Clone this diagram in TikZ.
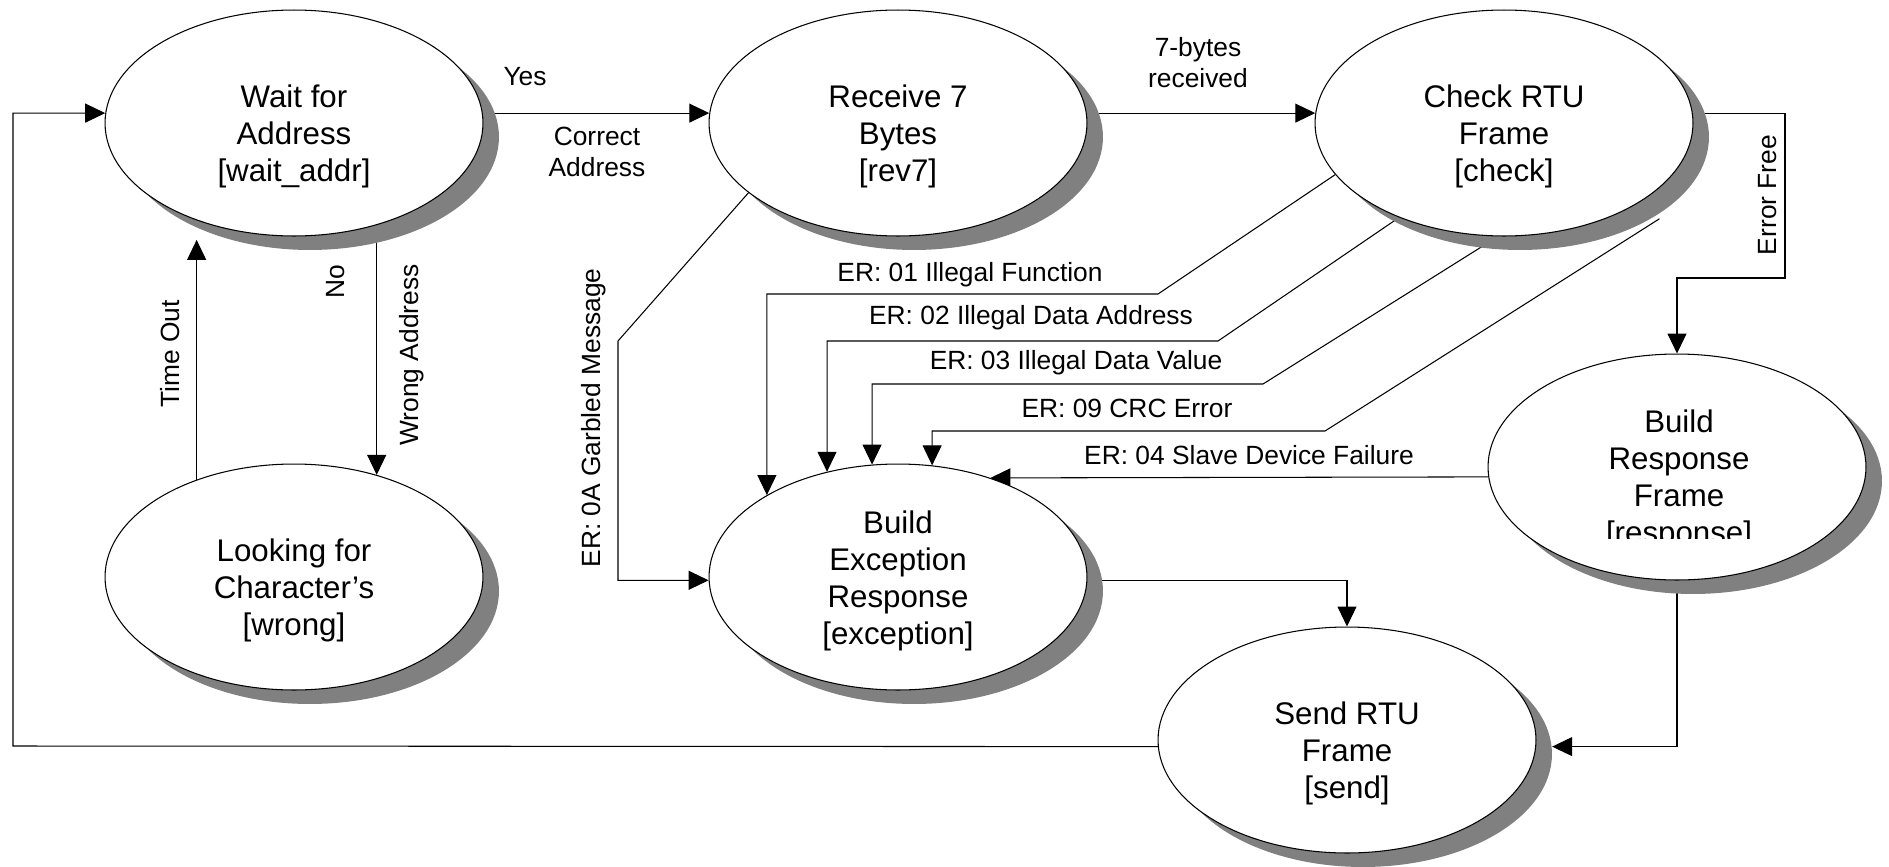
\documentclass[tikz,border=0pt]{standalone}
\usepackage{fontspec}
\setmainfont{Liberation Sans}
\usetikzlibrary{shapes.geometric,shadows,arrows.meta}
\pgfdeclarelayer{back}
\pgfsetlayers{back,main}
% pushes the text of a state a little down in its ellipse
\newcommand{\statestrut}[1][1cm]{\rule{0pt}{#1}}

\begin{document}
\begin{tikzpicture}[x=0.02cm, y=-0.02cm,
		state/.style={ellipse, draw, fill=white, line width=0.6pt, minimum width=7.56cm, minimum height=4.52cm, inner sep=0pt, align=center, font=\fontsize{17.8}{21}\selectfont, drop shadow={shadow xshift=0.32cm, shadow yshift=-0.28cm, fill=black!50, opacity=1}},
		lbl/.style={inner sep=0pt, align=center, font=\fontsize{15}{17.6}\selectfont},
		flow/.style={line width=0.6pt, -{Triangle[length=0.4cm, width=0.38cm]}}]
	\useasboundingbox (0,0) rectangle (1889,866);
	% states
	\node[state] (wait) at (294,123) {\statestrut Wait for\\Address\\{[wait\_addr]}};
	\node[state] (rev7) at (898,123) {\statestrut Receive 7\\Bytes\\{[rev7]}};
	\node[state] (check) at (1504,123) {\statestrut Check RTU\\Frame\\{[check]}};
	\node[state] (wrong) at (294,577) {\statestrut Looking for\\Character’s\\{[wrong]}};
	\node[state] (exception) at (898,577) {\statestrut[0.6cm]Build\\Exception\\Response\\{[exception]}};
	\node[state] (response) at (1677,467) {};
	\node[state] (send) at (1347,740) {\statestrut Send RTU\\Frame\\{[send]}};
	% last line of the response text is cut off
	\begin{scope}
		\clip (1540,390) rectangle (1820,538);
		\node[align=center, inner sep=0pt, font=\fontsize{17.8}{21}\selectfont] (responsetext) at (1679,480) {Build\\Response\\Frame\\{[response]}};
	\end{scope}
	% labels
	\node[lbl] (yes) at (525,77) {Yes};
	\node[lbl] (correct) at (597,152) {Correct\\Address};
	\node[lbl] (bytes) at (1198,63) {7-bytes\\received};
	\node[lbl, rotate=90] (errfree) at (1768,195) {Error Free};
	\node[lbl, rotate=90] (timeout) at (170,354) {Time Out};
	\node[lbl, rotate=90] (no) at (336,282) {No};
	\node[lbl, rotate=90] (wrongaddr) at (412,355) {Wrong Address};
	\node[lbl, rotate=90] (garbled) at (594,418) {ER: 0A Garbled Message};
	\node[lbl] (er01) at (970,275) {ER: 01 Illegal Function};
	\node[lbl] (er02) at (1031,318) {ER: 02 Illegal Data Address};
	\node[lbl] (er03) at (1076,363) {ER: 03 Illegal Data Value};
	\node[lbl] (er09) at (1127,408) {ER: 09 CRC Error};
	\node[lbl] (er04) at (1249,455) {ER: 04 Slave Device Failure};
	% transitions, kept under the states and their shadows
	\begin{pgfonlayer}{back}
		\coordinate (loop) at (13,746);
		\coordinate (efree) at (1785,278);
		\coordinate (gb) at (618,341);
		\coordinate (er1) at (1158,294);
		\coordinate (er2) at (1218,341);
		\coordinate (er3) at (1263,384);
		\coordinate (er9) at (1325,431);
		\draw[flow] (wait.3) -- (rev7.177);
		\draw[flow] (rev7.3) -- (check.177);
		\draw[flow] (check.3) -| (efree) -| (response.north);
		\draw[flow] (wait.-51.5) -- (wrong.51.2);
		\draw[flow, shorten >=0.39cm] (wrong.135.4) -- (wait.-135.4);
		\draw[flow] (rev7.205) -- (gb) |- (exception.181);
		\draw[flow] (check.197) -- (er1) -| (exception.148);
		\draw[flow] (check.222.5) -- (er2) -| (exception.124);
		\draw[flow] (check.267) -- (er3) -| (exception.103);
		\draw[flow] ([shift={(19,17)}]check.-30) -- (er9) -| (exception.73);
		\draw[flow] (response.183) -- (exception.47);
		\draw[flow] (exception.-1) -| (send.north);
		\draw[flow] (response.south) |- ([xshift=0.32cm]send.-2);
		\draw[flow] (send.182) -- (loop) |- (wait.177);
	\end{pgfonlayer}
\end{tikzpicture}
\end{document}
